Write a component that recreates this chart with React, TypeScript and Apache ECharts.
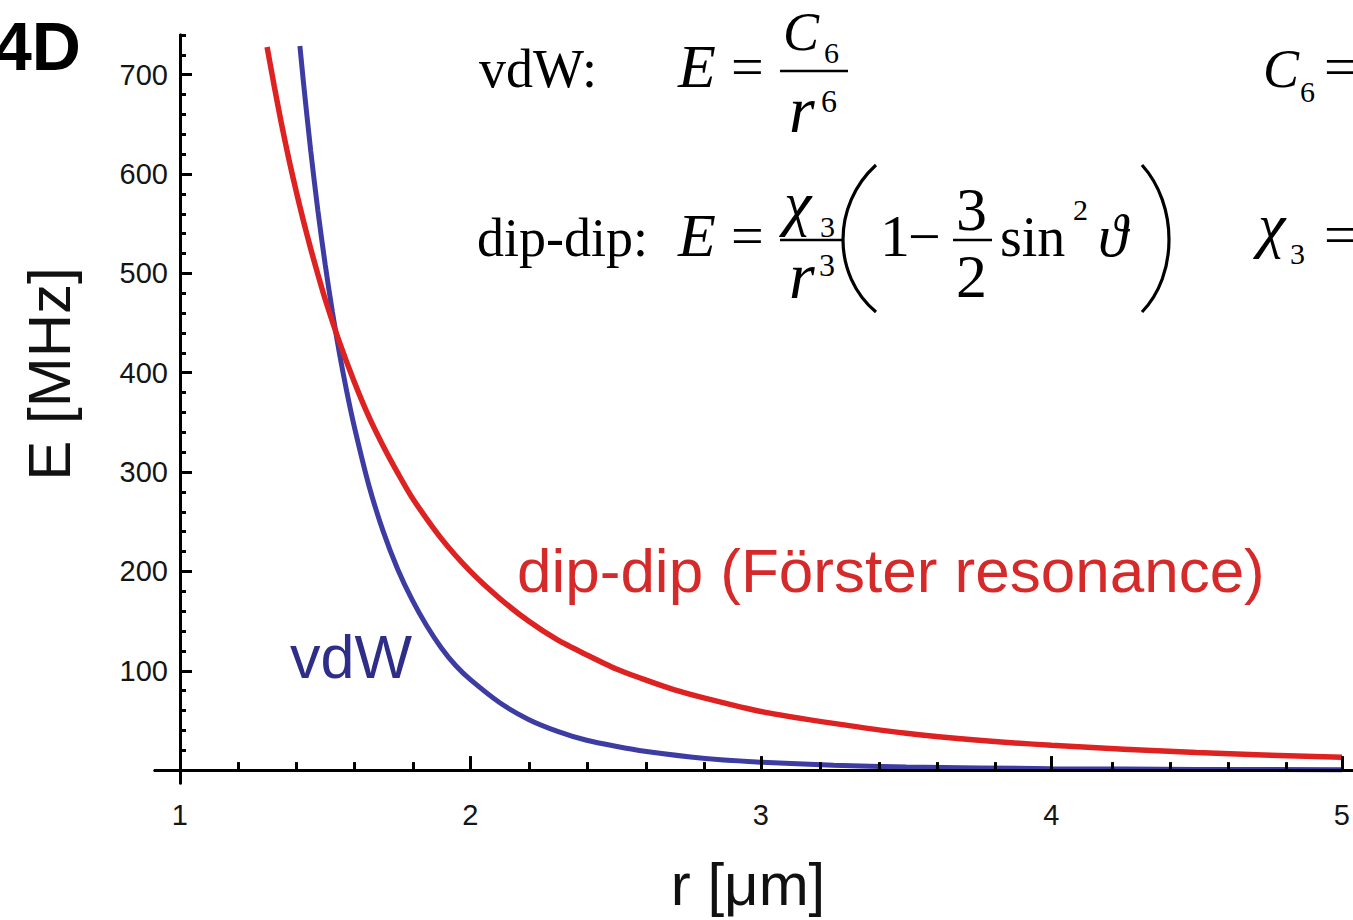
import React, { useEffect, useRef } from "react";
import * as echarts from "echarts";

// ---- data ----
const rRed = [1.3, 1.325, 1.35, 1.375, 1.4, 1.425, 1.45, 1.475, 1.5, 1.55, 1.6, 1.65, 1.7, 1.75, 1.8, 1.9, 2.0, 2.1, 2.2, 2.3, 2.4, 2.5, 2.6, 2.7, 2.8, 3.0, 3.25, 3.5, 3.75, 4.0, 4.5, 5.0];
const eRed = [728, 688, 650, 615, 583, 553, 525, 499, 474, 430, 391, 356, 326, 299, 274, 233, 200, 173, 150, 131, 116, 102, 91, 81, 73, 59, 47, 37, 30, 25, 17.6, 12.8];

const rBlue = [1.413, 1.425, 1.45, 1.475, 1.5, 1.525, 1.55, 1.575, 1.6, 1.65, 1.7, 1.75, 1.8, 1.85, 1.9, 1.95, 2.0, 2.1, 2.2, 2.3, 2.4, 2.5, 2.6, 2.8, 3.0, 3.25, 3.5, 4.0, 4.5, 5.0];
const eBlue = [729, 693, 624, 563, 509, 461, 418, 380, 346, 287, 240, 202, 171, 145, 123, 105, 91, 68, 51, 39, 30, 24, 19, 12, 8, 4.9, 3.2, 1.4, 0.7, 0.4];

const xLabels = [1, 2, 3, 4, 5];
const xMajorTicks = [2, 3, 4, 5];
const xMinorTicks = [1.2, 1.4, 1.6, 1.8, 2.2, 2.4, 2.6, 2.8, 3.2, 3.4, 3.6, 3.8, 4.2, 4.4, 4.6, 4.8];
const yLabels = [100, 200, 300, 400, 500, 600, 700];
const yMajorTicks = [100, 200, 300, 400, 500, 600, 700];
const yMinorTicks = [20, 40, 60, 80, 120, 140, 160, 180, 220, 240, 260, 280, 320, 340, 360, 380, 420, 440, 460, 480, 520, 540, 560, 580, 620, 640, 660, 680, 720, 740];

const seriesNames = ["vdW", "dip-dip (Förster resonance)"];

const SANS = "'Liberation Sans', Arial, Helvetica, sans-serif";
const SERIF = "'Liberation Serif', 'Times New Roman', serif";

function T(text: string, x: number, baseline: number, size: number, opts: any = {}) {
  const family = opts.family || SERIF;
  const k = family === SANS ? 0.3465 : 0.3375;
  const align = opts.align || "left";
  return {
    type: "text",
    x,
    y: baseline - k * size,
    silent: true,
    z: 20,
    style: {
      text,
      fontSize: size,
      fontFamily: family,
      fontStyle: opts.italic ? "italic" : "normal",
      fontWeight: opts.bold ? "bold" : "normal",
      fill: opts.color || "#000",
      align,
      textAlign: align,
      verticalAlign: "middle",
      textVerticalAlign: "middle",
    },
  };
}

function L(x1: number, y1: number, x2: number, y2: number, w = 2.5) {
  return { type: "line", silent: true, z: 20, shape: { x1, y1, x2, y2 }, style: { stroke: "#000", lineWidth: w } };
}

function B(x1: number, y1: number, cpx1: number, cpy1: number, cpx2: number, cpy2: number, x2: number, y2: number) {
  return {
    type: "bezierCurve",
    silent: true,
    z: 20,
    shape: { x1, y1, cpx1, cpy1, cpx2, cpy2, x2, y2 },
    style: { stroke: "#000", lineWidth: 3.2, fill: null },
  };
}

const X_MIN = 0.9142;
const X_MAX = 5.0275;
const Y_MIN = -13;
const Y_MAX = 740;

export default function App() {
  const ref = useRef<HTMLDivElement>(null);
  useEffect(() => {
    if (!ref.current) return;
    const chart = echarts.init(ref.current, null, { renderer: "svg" });

    const gridBox = { left: 155, right: 0, top: 35, bottom: 137 };
    const axisLineStyle = { color: "#000", width: 3 };
    const labelStyle = { fontFamily: SANS, fontSize: 29, color: "#151515" };

    const graphics: any[] = [
      // panel label
      T("4D", -6, 70, 68, { family: SANS, bold: true }),
      // row 1 : vdW formula
      T("vdW:", 479, 87, 54),
      T("E", 678, 87, 62, { italic: true }),
      T("=", 731, 86, 58),
      L(780, 71, 848, 71),
      T("C", 783, 50, 54, { italic: true }),
      T("6", 824, 63, 30),
      T("r", 789, 132, 66, { italic: true }),
      T("6", 821, 112, 32),
      T("C", 1263, 87, 54, { italic: true }),
      T("6", 1300, 102, 30),
      T("=", 1324, 86, 58),
      // row 2 : dip-dip formula
      T("dip-dip:", 477, 256, 54),
      T("E", 678, 256, 62, { italic: true }),
      T("=", 731, 255, 58),
      L(780, 240, 842, 240),
      T("χ", 784, 224, 62, { italic: true }),
      T("3", 820, 237, 30),
      T("r", 789, 298, 66, { italic: true }),
      T("3", 819, 276, 32),
      B(876, 165, 832, 205, 832, 275, 876, 312),
      T("1", 880, 256, 60),
      T("−", 908, 256, 58),
      L(953, 240, 992, 240),
      T("3", 956, 230, 62),
      T("2", 956, 297, 62),
      T("sin", 1000, 256, 56),
      T("2", 1073, 220, 30),
      T("ϑ", 1098, 256, 60, { italic: true }),
      B(1142, 165, 1178, 205, 1178, 275, 1142, 312),
      T("χ", 1258, 246, 62, { italic: true }),
      T("3", 1290, 264, 30),
      T("=", 1324, 254, 58),
      // curve labels
      T(seriesNames[0], 290, 678, 61, { family: SANS, color: "#2e2e88" }),
      T(seriesNames[1], 517, 592, 62, { family: SANS, color: "#d62a2a" }),
      // axis titles
      {
        type: "text",
        x: 49,
        y: 374,
        rotation: Math.PI / 2,
        silent: true,
        z: 20,
        style: {
          text: "E [MHz]",
          fontSize: 60,
          fontFamily: SANS,
          fill: "#111",
          align: "center",
          textAlign: "center",
          verticalAlign: "middle",
          textVerticalAlign: "middle",
        },
      },
      T("r [μm]", 748, 905, 60, { family: SANS, align: "center", color: "#111" }),
    ];

    const option: any = {
      animation: false,
      backgroundColor: "#fff",
      grid: [
        { ...gridBox, containLabel: false },
        { ...gridBox, containLabel: false },
      ],
      xAxis: [
        {
          type: "value",
          gridIndex: 0,
          min: X_MIN,
          max: X_MAX,
          position: "bottom",
          z: 10,
          axisLine: { show: true, onZero: true, onZeroAxisIndex: 0, lineStyle: axisLineStyle },
          axisTick: { show: true, inside: true, length: 14, customValues: xMajorTicks, lineStyle: { color: "#000", width: 3 } },
          axisLabel: { show: true, customValues: xLabels, margin: 17, ...labelStyle },
          splitLine: { show: false },
        },
        {
          type: "value",
          gridIndex: 1,
          min: X_MIN,
          max: X_MAX,
          position: "bottom",
          z: 10,
          axisLine: { show: true, onZero: true, onZeroAxisIndex: 1, lineStyle: axisLineStyle },
          axisTick: { show: true, inside: true, length: 8, customValues: xMinorTicks, lineStyle: { color: "#000", width: 3 } },
          axisLabel: { show: false },
          splitLine: { show: false },
        },
      ],
      yAxis: [
        {
          type: "value",
          gridIndex: 0,
          min: Y_MIN,
          max: Y_MAX,
          position: "left",
          offset: -25,
          z: 10,
          axisLine: { show: true, onZero: false, lineStyle: axisLineStyle },
          axisTick: { show: true, inside: true, length: 12, customValues: yMajorTicks, lineStyle: { color: "#000", width: 3 } },
          axisLabel: { show: true, customValues: yLabels, margin: 12, ...labelStyle },
          splitLine: { show: false },
        },
        {
          type: "value",
          gridIndex: 1,
          min: Y_MIN,
          max: Y_MAX,
          position: "left",
          offset: -25,
          z: 10,
          axisLine: { show: true, onZero: false, lineStyle: axisLineStyle },
          axisTick: { show: true, inside: true, length: 6, customValues: yMinorTicks, lineStyle: { color: "#000", width: 3 } },
          axisLabel: { show: false },
          splitLine: { show: false },
        },
      ],
      series: [
        {
          name: seriesNames[0],
          type: "line",
          xAxisIndex: 0,
          yAxisIndex: 0,
          data: rBlue.map((r, i) => [r, eBlue[i]]),
          smooth: 0.25,
          symbol: "none",
          showSymbol: false,
          lineStyle: { color: "#3c3ca2", width: 5 },
          z: 2,
        },
        {
          name: seriesNames[1],
          type: "line",
          xAxisIndex: 0,
          yAxisIndex: 0,
          data: rRed.map((r, i) => [r, eRed[i]]),
          smooth: 0.25,
          symbol: "none",
          showSymbol: false,
          lineStyle: { color: "#de2222", width: 5.5 },
          z: 3,
        },
      ],
      graphic: { elements: graphics },
    };

    chart.setOption(option);
    return () => chart.dispose();
  }, []);

  return <div ref={ref} style={{ position: "absolute", left: 0, top: 0, width: 1353, height: 920 }} />;
}
